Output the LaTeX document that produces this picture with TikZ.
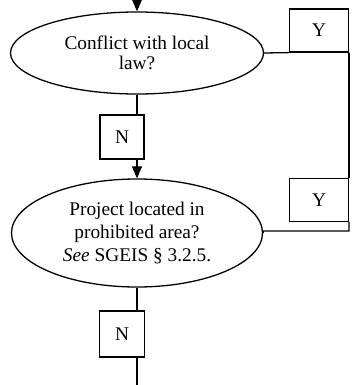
\documentclass[tikz,border=0pt]{standalone}
\usepackage{fontspec}
\setmainfont{Liberation Serif}
\usetikzlibrary{shapes.geometric,arrows.meta}
\begin{document}
\begin{tikzpicture}[x=0.03cm, y=-0.03cm,
            question/.style={ellipse, draw=black, line width=1.1pt, inner sep=0pt, align=center},
            answer/.style={rectangle, draw=black, line width=1pt, inner sep=0pt, font=\fontsize{16.5}{18}\selectfont},
            flow/.style={line width=1.1pt},
        ]
            \useasboundingbox (0,0) rectangle (359,385);

            %Nodes
            \node[question, minimum width=7.59cm, minimum height=2.46cm, font=\fontsize{16.5}{17.5}\selectfont] (conflict) at (137,53) {Conflict with local\\law?};
            \node[answer, minimum width=1.32cm, minimum height=1.32cm] (no1) at (122,137) {N};
            \node[question, minimum width=7.53cm, minimum height=3.24cm, font=\fontsize{16.5}{20}\selectfont] (prohibited) at (137,233) {Project located in\\prohibited area?\\\textit{See} SGEIS § 3.2.5.};
            \node[answer, minimum width=1.35cm, minimum height=1.38cm] (no2) at (122,334) {N};

            \node[answer, minimum width=1.77cm, minimum height=1.29cm] (yes1) at (319,30.5) {Y};
            \node[answer, minimum width=1.77cm, minimum height=1.29cm] (yes2) at (319,200) {Y};

            \coordinate (top) at (137,-2);
            \coordinate (bottom) at (137,385);
            \coordinate (corner) at (349,231);

            %Lines
            \draw[flow, -{Triangle[width=0.3cm, length=0.36cm]}] (top) -- (conflict.north);
            \draw[flow] (conflict.south) -- (conflict.south |- no1.north);
            \draw[flow, -{Triangle[width=0.3cm, length=0.36cm]}] (no1.south -| prohibited.north) -- (prohibited.north);
            \draw[flow] (conflict.east) -- (yes1.south west);
            \draw[flow] (yes1.south east) -- (yes2.north east);
            \draw[flow] (yes2.south east) -- (corner) -- (corner -| prohibited.east) -- (prohibited.east);
            \draw[flow] (prohibited.south) -- (prohibited.south |- no2.north);
            \draw[flow] (no2.south -| prohibited.south) -- (bottom);
        \end{tikzpicture}
\end{document}
